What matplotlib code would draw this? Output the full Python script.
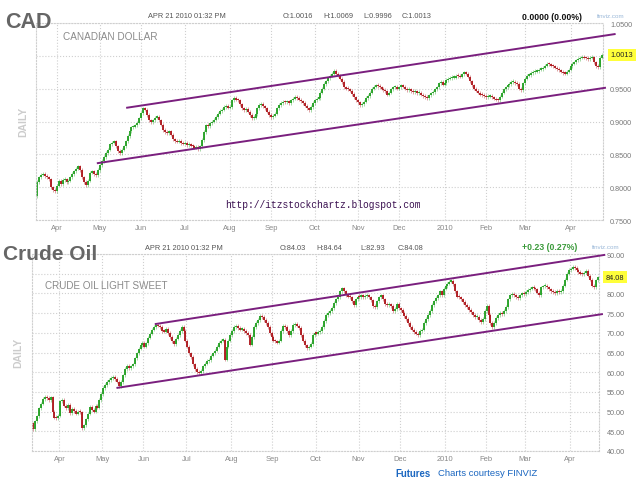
import matplotlib
matplotlib.use('Agg')
import matplotlib.pyplot as plt
import matplotlib.transforms as mtrans
import numpy as np
import pandas as pd

plt.rcParams['font.family'] = ['Liberation Sans', 'DejaVu Sans']

# ---------------- CAD (Canadian dollar futures), daily closes ----------------
cad_start = '2009-03-16'
cad_first_open = 0.786
cad_mar09 = [0.808, 0.815, 0.819, 0.820, 0.817, 0.815, 0.812, 0.800, 0.795, 0.794, 0.802, 0.810]
cad_apr09 = [0.805, 0.811, 0.812, 0.808, 0.810, 0.815, 0.820, 0.824, 0.828, 0.832, 0.826, 0.815,
             0.808, 0.803, 0.810, 0.822, 0.824, 0.820, 0.818, 0.826, 0.833, 0.840]
cad_may09 = [0.846, 0.852, 0.857, 0.865, 0.868, 0.870, 0.862, 0.855, 0.852, 0.857, 0.862, 0.870,
             0.878, 0.885, 0.891, 0.892, 0.894, 0.898, 0.905, 0.913, 0.920]
cad_jun09 = [0.918, 0.910, 0.902, 0.899, 0.902, 0.906, 0.907, 0.902, 0.895, 0.887, 0.884, 0.882,
             0.885, 0.880, 0.873, 0.870, 0.869, 0.871, 0.867, 0.866, 0.868, 0.864]
cad_jul09 = [0.865, 0.863, 0.862, 0.860, 0.861, 0.858, 0.862, 0.872, 0.884, 0.894, 0.893, 0.897,
             0.900, 0.903, 0.907, 0.912, 0.916, 0.918, 0.922, 0.924, 0.921, 0.922, 0.932]
cad_aug09 = [0.936, 0.933, 0.932, 0.926, 0.920, 0.917, 0.919, 0.915, 0.910, 0.905, 0.906, 0.911,
             0.920, 0.925, 0.927, 0.923, 0.920, 0.915, 0.910, 0.907, 0.909]
cad_sep09 = [0.912, 0.920, 0.925, 0.928, 0.930, 0.929, 0.931, 0.928, 0.932, 0.935, 0.938, 0.936,
             0.933, 0.931, 0.928, 0.924, 0.920, 0.917, 0.922, 0.928, 0.932, 0.935]
cad_oct09 = [0.936, 0.944, 0.950, 0.957, 0.961, 0.966, 0.970, 0.973, 0.977, 0.973, 0.970, 0.965,
             0.960, 0.952, 0.950, 0.949, 0.947, 0.942, 0.937, 0.932, 0.929, 0.925]
cad_nov09 = [0.926, 0.930, 0.936, 0.939, 0.944, 0.950, 0.953, 0.955, 0.954, 0.952, 0.950, 0.948,
             0.946, 0.941, 0.944, 0.949, 0.952, 0.953, 0.950, 0.952, 0.955]
cad_dec09 = [0.953, 0.950, 0.948, 0.949, 0.946, 0.945, 0.946, 0.943, 0.944, 0.941, 0.939, 0.937,
             0.936, 0.940, 0.943, 0.945, 0.949, 0.952, 0.958, 0.960, 0.956, 0.958, 0.963]
cad_jan10 = [0.965, 0.966, 0.967, 0.967, 0.970, 0.969, 0.968, 0.972, 0.975, 0.973, 0.968, 0.961,
             0.955, 0.950, 0.947, 0.944, 0.941, 0.940, 0.939, 0.937, 0.938]
cad_feb10 = [0.939, 0.937, 0.935, 0.933, 0.932, 0.938, 0.944, 0.949, 0.952, 0.955, 0.957, 0.960,
             0.960, 0.958, 0.957, 0.950, 0.948, 0.958, 0.965, 0.970]
cad_mar10 = [0.971, 0.974, 0.975, 0.976, 0.977, 0.979, 0.980, 0.982, 0.985, 0.988, 0.987, 0.985,
             0.984, 0.982, 0.980, 0.978, 0.976, 0.974, 0.973, 0.976, 0.979, 0.984, 0.988]
cad_apr10 = [0.990, 0.993, 0.995, 0.997, 0.998, 0.997, 0.996, 0.995, 0.997, 0.998, 0.990, 0.984,
             0.983, 0.997, 1.0013]
cad_close = (cad_mar09 + cad_apr09 + cad_may09 + cad_jun09 + cad_jul09 + cad_aug09 + cad_sep09 +
             cad_oct09 + cad_nov09 + cad_dec09 + cad_jan10 + cad_feb10 + cad_mar10 + cad_apr10)
cad_yticks = [0.75, 0.80, 0.85, 0.90, 0.95, 1.00, 1.05]
cad_hidden_tick = 1.00          # label covered by the last-price box
cad_header = ['O:1.0016', 'H:1.0069', 'L:0.9996', 'C:1.0013']
cad_change = '0.0000 (0.00%)'
cad_upper_x, cad_upper_y = [45.3, 293.9], [0.9208, 1.0333]
cad_lower_x, cad_lower_y = [30.4, 289.0], [0.8364, 0.9515]

# ---------------- Crude oil light sweet, daily closes ----------------
oil_start = '2009-03-12'
oil_first_open = 47.0
oil_mar09 = [45.6, 47.5, 48.8, 50.8, 52.0, 53.2, 53.8, 53.5, 53.0, 53.6, 50.0, 48.5, 48.3, 49.0]
oil_apr09 = [52.6, 53.0, 51.5, 50.8, 51.8, 49.6, 50.6, 50.2, 49.5, 50.0, 49.8, 45.8, 46.5, 48.0,
             49.5, 51.2, 50.5, 50.0, 51.5, 51.0, 53.0, 54.5]
oil_may09 = [56.0, 56.8, 57.5, 58.0, 58.5, 58.8, 58.3, 57.6, 56.5, 57.5, 59.2, 60.8, 61.7, 61.0,
             61.5, 62.0, 63.5, 64.8, 66.0, 66.8, 67.4]
oil_jun09 = [66.5, 67.3, 68.8, 69.8, 70.8, 71.5, 72.0, 71.8, 71.5, 70.5, 70.3, 71.0, 70.0, 69.0,
             67.8, 67.2, 68.5, 69.5, 70.5, 71.5, 70.5, 68.0]
oil_jul09 = [66.5, 64.8, 63.8, 62.0, 60.8, 60.0, 59.8, 60.3, 61.5, 62.2, 62.8, 63.0, 64.2, 64.8,
             65.5, 66.5, 67.5, 68.0, 68.2, 63.2, 66.5, 68.0, 69.5]
oil_aug09 = [70.5, 71.5, 71.8, 71.2, 70.8, 71.0, 70.5, 70.0, 69.5, 67.0, 69.0, 71.5, 72.5, 73.2,
             74.2, 74.0, 73.2, 72.5, 71.5, 70.0, 69.0]
oil_sep09 = [68.0, 67.8, 67.5, 68.0, 70.5, 71.8, 71.5, 70.5, 69.5, 70.5, 72.0, 72.2, 71.8, 71.2,
             69.5, 68.0, 66.8, 66.2, 66.5, 67.2, 69.5, 70.0]
oil_oct09 = [69.8, 70.2, 70.5, 71.5, 73.0, 74.5, 75.0, 75.5, 76.3, 77.5, 78.5, 79.0, 80.5, 81.3,
             80.5, 79.5, 79.2, 79.0, 78.0, 77.0, 78.5, 79.2]
oil_nov09 = [79.0, 79.5, 79.0, 79.3, 79.5, 79.0, 78.2, 76.8, 76.5, 78.0, 79.0, 79.5, 78.5, 77.3,
             77.0, 77.2, 76.8, 75.5, 76.0, 77.3, 76.2]
oil_dec09 = [75.8, 75.0, 74.2, 73.5, 72.5, 71.5, 70.8, 70.2, 69.8, 69.5, 70.5, 70.8, 72.5, 73.5,
             74.5, 75.5, 77.0, 78.0, 78.8, 79.5, 80.5, 79.5, 81.2]
oil_jan10 = [81.8, 82.5, 83.0, 83.2, 82.3, 80.5, 79.2, 79.0, 78.5, 77.8, 77.0, 76.5, 75.8, 75.2,
             74.5, 74.0, 74.0, 73.3, 72.8, 73.5, 75.5]
oil_feb10 = [76.8, 74.5, 72.5, 71.5, 72.5, 73.8, 74.5, 75.0, 74.8, 75.5, 76.5, 78.5, 79.5, 79.8,
             79.5, 79.0, 78.8, 79.5, 80.0, 79.8]
oil_mar10 = [80.3, 80.8, 81.2, 81.5, 81.3, 81.0, 80.2, 79.5, 81.5, 81.8, 82.0, 81.5, 81.0, 80.5,
             80.3, 80.0, 80.7, 80.3, 80.5, 82.0, 83.5, 85.0, 86.0]
oil_apr10 = [86.3, 86.8, 86.5, 86.0, 85.5, 85.0, 84.8, 85.3, 85.8, 84.5, 83.5, 82.0, 81.5, 83.3,
             84.08]
oil_close = (oil_mar09 + oil_apr09 + oil_may09 + oil_jun09 + oil_jul09 + oil_aug09 + oil_sep09 +
             oil_oct09 + oil_nov09 + oil_dec09 + oil_jan10 + oil_feb10 + oil_mar10 + oil_apr10)
oil_yticks = [40, 45, 50, 55, 60, 65, 70, 75, 80, 85, 90]
oil_hidden_tick = 85            # label covered by the last-price box
oil_header = ['O:84.03', 'H:84.64', 'L:82.93', 'C:84.08']
oil_change = '+0.23 (0.27%)'
oil_upper_x, oil_upper_y = [62.3, 292.7], [72.2, 89.8]
oil_lower_x, oil_lower_y = [42.7, 291.5], [56.0, 74.77]

stamp = 'APR 21 2010 01:32 PM'

# ---------------- figure ----------------
W, H = 640, 481
fig = plt.figure(figsize=(6.4, 4.81), dpi=100)
fig.patch.set_facecolor('white')


def fx(px):
    return px / W


def fy(py):
    return 1 - py / H


GRID = '#cfcfcf'
UP = '#1f9f1f'
DOWN = '#ad1218'
CHAN = '#7a1f7e'


def month_ticks(dates, shift):
    pos, lab = [], []
    for i in range(1, len(dates)):
        if dates[i].month != dates[i - 1].month:
            pos.append(i + shift)
            lab.append(str(dates[i].year) if dates[i].month == 1 else dates[i].strftime('%b'))
    return pos, lab


def draw(ax, start, close, first_open, ylim, yticks, yfmt, hidden, ux, uy, lx, ly,
         shift, wick, ypad, box_off):
    c = np.asarray(close, float)
    n = len(c)
    dates = pd.bdate_range(start, periods=n)
    x = np.arange(n)
    o = np.concatenate([[first_open], c[:-1]])
    up = c >= o
    lo = np.minimum(o, c)
    hi = np.maximum(o, c)
    eps = (ylim[1] - ylim[0]) * 0.006
    hi = np.maximum(hi, lo + eps)
    cols = np.where(up, UP, DOWN)
    ax.vlines(x, lo - wick, hi + wick, colors=cols, lw=0.5, alpha=0.55, zorder=2)
    ax.vlines(x, lo, hi, colors=cols, lw=1.3, zorder=2)

    ax.plot(ux, uy, color=CHAN, lw=1.4, zorder=4, clip_on=False, solid_capstyle='butt')
    ax.plot(lx, ly, color=CHAN, lw=1.4, zorder=4, clip_on=False, solid_capstyle='butt')

    ax.set_xlim(-0.5, n - 0.5)
    ax.set_ylim(*ylim)
    pos, lab = month_ticks(dates, shift)
    ax.set_xticks(pos)
    ax.set_xticklabels(lab)
    ax.set_yticks(yticks)
    ax.set_yticklabels(['' if abs(v - hidden) < 1e-9 else yfmt.format(v) for v in yticks])
    ax.yaxis.tick_right()
    ax.tick_params(axis='y', length=0, pad=ypad, labelsize=5.2, labelcolor='#777777')
    ax.tick_params(axis='x', length=0, pad=3, labelsize=5.4, labelcolor='#888888')
    ax.grid(True, ls=':', color=GRID, lw=0.8)
    ax.set_axisbelow(True)
    for s in ax.spines.values():
        s.set_linestyle(':')
        s.set_color(GRID)
        s.set_linewidth(0.8)

    trans = mtrans.blended_transform_factory(ax.transAxes, ax.transData)
    ax.annotate(yfmt.format(c[-1]), xy=(1.0, c[-1]), xycoords=trans, xytext=(box_off, 0),
                textcoords='offset points', ha='left', va='center', fontsize=5.3,
                color='#222222', zorder=6, annotation_clip=False,
                bbox=dict(boxstyle='square,pad=0.35', fc='#ffff3a', ec='none'))


ax1 = fig.add_axes([fx(36), fy(221), 567 / W, 197 / H])
draw(ax1, cad_start, cad_close, cad_first_open, (0.75, 1.05), cad_yticks, '{:.4f}', cad_hidden_tick,
     cad_upper_x, cad_upper_y, cad_lower_x, cad_lower_y,
     shift=-2.0, wick=0.0025, ypad=5.0, box_off=5.4)

ax2 = fig.add_axes([fx(32), fy(452), 567 / W, 197 / H])
draw(ax2, oil_start, oil_close, oil_first_open, (40, 90), oil_yticks, '{:.2f}', oil_hidden_tick,
     oil_upper_x, oil_upper_y, oil_lower_x, oil_lower_y,
     shift=-0.5, wick=0.45, ypad=5.8, box_off=5.0)

# ---------------- texts ----------------
fig.text(fx(5), fy(23), 'CAD', fontsize=15.5, weight='bold', color='#666666', ha='left', va='center')
fig.text(fx(3), fy(254), 'Crude Oil', fontsize=15, weight='bold', color='#666666', ha='left', va='center')

fig.text(fx(23), fy(122), 'DAILY', fontsize=7.5, weight='bold', color='#cccccc',
         rotation=90, ha='center', va='center')
fig.text(fx(18), fy(353), 'DAILY', fontsize=7.5, weight='bold', color='#cccccc',
         rotation=90, ha='center', va='center')

fig.text(fx(63), fy(37), 'CANADIAN DOLLAR', fontsize=7.2, color='#8a8a8a', ha='left', va='center')
fig.text(fx(45), fy(286), 'CRUDE OIL LIGHT SWEET', fontsize=7.1, color='#8a8a8a', ha='left', va='center')

hdr_font = dict(fontsize=5.3, color='#555555', va='center')
fig.text(fx(187), fy(17), stamp, ha='center', **hdr_font)
for lx_, t in zip([283, 323, 363, 402], cad_header):
    fig.text(fx(lx_), fy(17), t, ha='left', **hdr_font)
fig.text(fx(522), fy(17), cad_change, fontsize=6.3, weight='bold', color='#111111', ha='left', va='center')
fig.text(fx(597), fy(16), 'finviz.com', fontsize=4.5, color='#9ab8d8', ha='left', va='center')

fig.text(fx(183.5), fy(249), stamp, ha='center', **hdr_font)
for lx_, t in zip([280, 316, 360, 398], oil_header):
    fig.text(fx(lx_), fy(249), t, ha='left', **hdr_font)
fig.text(fx(522), fy(248), oil_change, fontsize=6.3, weight='bold', color='#3a9a3a', ha='left', va='center')
fig.text(fx(592), fy(248), 'finviz.com', fontsize=4.5, color='#9ab8d8', ha='left', va='center')

fig.text(fx(225), fy(205), 'http://itzstockchartz.blogspot.com', fontsize=6.9,
         family=['Liberation Mono', 'DejaVu Sans Mono'], color='#3a1050', ha='left', va='center')

fig.text(fx(395), fy(474), 'Futures', fontsize=6.9, weight='bold', color='#1a66c0', ha='left', va='center')
fig.text(fx(438), fy(474), 'Charts courtesy FINVIZ', fontsize=6.8, color='#1a66c0', ha='left', va='center')

fig.savefig('out.png', dpi=100, facecolor='white')
